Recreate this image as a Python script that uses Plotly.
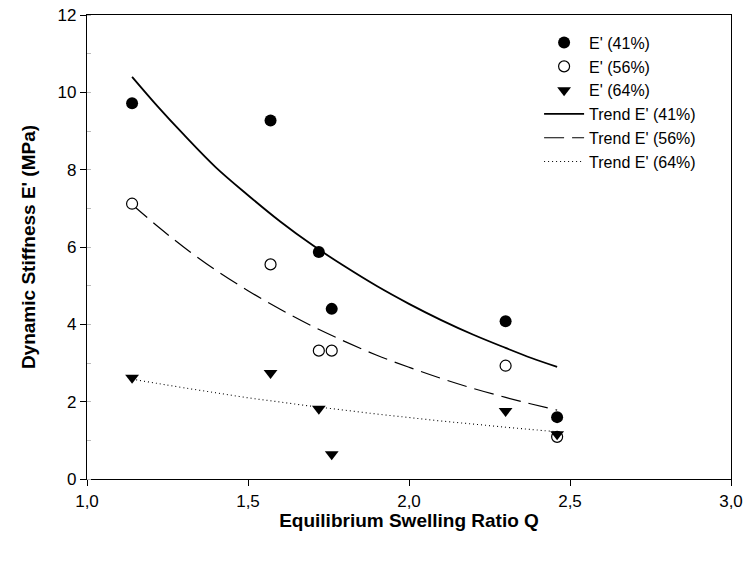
import plotly.graph_objects as go

# Data
q = [1.14, 1.57, 1.72, 1.76, 2.30, 2.46]
e41 = [9.72, 9.27, 5.87, 4.40, 4.08, 1.60]
e56 = [7.12, 5.55, 3.32, 3.32, 2.93, 1.09]
e64 = [2.62, 2.74, 1.82, 0.64, 1.76, 1.16]

trend_q = [1.14, 1.22, 1.30, 1.40, 1.50, 1.60, 1.70, 1.80, 1.90, 2.00, 2.10, 2.20, 2.30, 2.38, 2.46]
trend41 = [10.40, 9.63, 8.91, 8.06, 7.34, 6.66, 6.05, 5.50, 4.99, 4.53, 4.11, 3.73, 3.39, 3.13, 2.90]
trend56 = [7.10, 6.53, 6.00, 5.40, 4.87, 4.39, 3.95, 3.56, 3.20, 2.89, 2.60, 2.34, 2.11, 1.94, 1.78]
trend64 = [2.58, 2.47, 2.36, 2.23, 2.10, 1.99, 1.88, 1.78, 1.68, 1.59, 1.50, 1.42, 1.34, 1.28, 1.22]

FONT = "Liberation Sans, Arial, sans-serif"

fig = go.Figure()

fig.add_trace(go.Scatter(x=trend_q, y=trend41, mode="lines", name="Trend E' (41%)",
                         line=dict(color="black", width=1.8, shape="spline"), legendrank=4))
fig.add_trace(go.Scatter(x=trend_q, y=trend56, mode="lines", name="Trend E' (56%)",
                         line=dict(color="black", width=1.2, dash="20px,8px", shape="spline"), legendrank=5))
fig.add_trace(go.Scatter(x=trend_q, y=trend64, mode="lines", name="Trend E' (64%)",
                         line=dict(color="black", width=1.1, dash="1px,3px", shape="spline"), legendrank=6))

fig.add_trace(go.Scatter(x=q, y=e41, mode="markers", name="E' (41%)",
                         marker=dict(symbol="circle", size=12, color="black"), legendrank=1))
fig.add_trace(go.Scatter(x=q, y=e56, mode="markers", name="E' (56%)",
                         marker=dict(symbol="circle", size=11, color="white",
                                     line=dict(color="black", width=1.2)), legendrank=2))
fig.add_trace(go.Scatter(x=q, y=e64, mode="markers", name="E' (64%)",
                         marker=dict(symbol="triangle-down", size=12, color="black"), legendrank=3))

fig.update_layout(
    width=744, height=562,
    margin=dict(l=87, r=13, t=15, b=83),
    paper_bgcolor="white", plot_bgcolor="white",
    separators=",.",
    font=dict(family=FONT, size=16, color="black"),
    showlegend=True,
    legend=dict(x=0.702, y=0.977, xanchor="left", yanchor="top",
                bgcolor="rgba(0,0,0,0)", font=dict(size=16, family=FONT),
                tracegroupgap=0, itemwidth=40),
    xaxis=dict(range=[1.0, 3.0], tick0=1.0, dtick=0.5, tickformat=".1f",
               automargin=False, ticklabeloverflow="allow",
               showgrid=False, zeroline=False,
               showline=True, linecolor="black", linewidth=1.2, mirror=True,
               ticks="outside", ticklen=6, tickcolor="black",
               tickfont=dict(size=17),
               title=dict(text="<b>Equilibrium Swelling Ratio Q</b>", font=dict(size=19), standoff=4)),
    yaxis=dict(range=[0, 12], tick0=0, dtick=2,
               automargin=False, ticklabeloverflow="allow",
               showgrid=False, zeroline=False,
               showline=True, linecolor="black", linewidth=1.2, mirror=True,
               ticks="outside", ticklen=6, tickcolor="black",
               tickfont=dict(size=17),
               minor=dict(ticks="inside", dtick=1, ticklen=4, tickcolor="#bbbbbb"),
               title=dict(text="<b>Dynamic Stiffness E' (MPa)</b>", font=dict(size=19), standoff=16)),
)

fig.write_html("out.html", config={"displayModeBar": False},
               post_script="document.body.style.margin='0';")
